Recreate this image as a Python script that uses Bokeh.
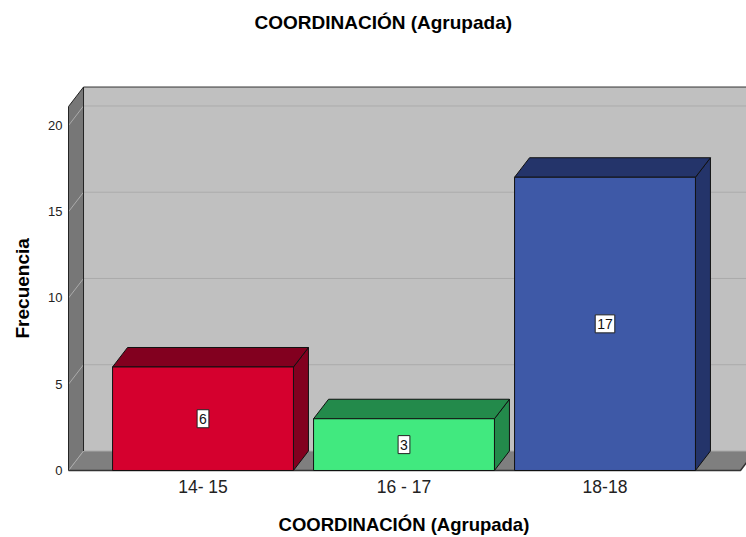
import math
from bokeh.plotting import figure
from bokeh.models import FixedTicker, Label, Title
from bokeh.embed import file_html
from bokeh.resources import INLINE

# ---- data ----
categories = ["14- 15", "16 - 17", "18-18"]
counts = [6, 3, 17]
front_colors = ["#d5002e", "#41e97f", "#3e59a7"]
side_colors = ["#82001f", "#238a4b", "#24346a"]
y_ticks = [0, 5, 10, 15, 20]
chart_title = "COORDINACIÓN  (Agrupada)"
x_title = "COORDINACIÓN  (Agrupada)"
y_title = "Frecuencia"

# ---- 3D geometry (data units) ----
PX_X = 201.0           # pixels per category
PX_Y = 17.25           # pixels per count
BAR_W = 0.9
DX = 15 / PX_X         # depth offset along x
DY = 19.5 / PX_Y       # depth offset along y
X_L = -0.669           # front-left edge of the box
X_R = 2.674            # front-right edge of the box
Y_TOP = 21.1           # top of walls
TITLE_X = 0.91         # title centre (category units)
TITLE_Y = 25.97        # title centre (count units)

FONT = "Liberation Sans"

p = figure(width=746, height=537, output_backend="svg", toolbar_location=None,
           x_range=(-0.6791, 2.7040), y_range=(-0.116, 27.246),
           min_border_left=66, min_border_right=0, min_border_top=0, min_border_bottom=65)
p.background_fill_color = "white"
p.border_fill_color = "white"
p.outline_line_color = None
p.grid.visible = False

# back wall
p.patch([X_L + DX, X_R + DX + 1, X_R + DX + 1, X_L + DX],
        [DY, DY, Y_TOP + DY, Y_TOP + DY], fill_color="#c0c0c0", line_color=None)
# left wall
p.patch([X_L, X_L + DX, X_L + DX, X_L], [0, DY, Y_TOP + DY, Y_TOP],
        fill_color="#777777", line_color=None)
# floor
p.patch([X_L, X_R, X_R + DX, X_L + DX], [0, 0, DY, DY],
        fill_color="#7f7f7f", line_color=None)

# grid lines (left wall diagonal + back wall horizontal)
gx, gy = [], []
for t in y_ticks:
    gx.append([X_L, X_L + DX, X_R + DX + 1])
    gy.append([t, t + DY, t + DY])
p.multi_line(gx, gy, line_color="#ababab", line_width=1)

# box edges
p.line([X_L + DX, X_R + DX + 1], [Y_TOP + DY, Y_TOP + DY], line_color="#333333", line_width=1)
p.line([X_L + DX, X_L + DX], [DY, Y_TOP + DY], line_color="#222222", line_width=1)
p.line([X_L, X_L, X_L + DX], [0, Y_TOP, Y_TOP + DY], line_color="#222222", line_width=1)
p.line([X_L, X_R, X_R + DX], [0, 0, DY], line_color="#333333", line_width=1.5)

# bars
for i, v in enumerate(counts):
    l = i - BAR_W / 2
    r = i + BAR_W / 2
    # right side
    p.patch([r, r + DX, r + DX, r], [0, DY, v + DY, v],
            fill_color=side_colors[i], line_color="#111111", line_width=1)
    # top
    p.patch([l, r, r + DX, l + DX], [v, v, v + DY, v + DY],
            fill_color=side_colors[i], line_color="#111111", line_width=1)
    # front
    p.patch([l, r, r, l], [0, 0, v, v],
            fill_color=front_colors[i], line_color="#111111", line_width=1)
    p.add_layout(Label(x=i, y=v / 2, text=str(v), text_align="center",
                       text_baseline="middle", text_font=FONT, text_font_size="14px",
                       text_color="#111111", background_fill_color="white",
                       border_line_color="#222222", padding=(2, 4)))

# chart title (inside the frame, above the box)
p.add_layout(Label(x=TITLE_X, y=TITLE_Y, text=chart_title, text_align="center",
                   text_baseline="middle", text_font=FONT, text_font_size="19px",
                   text_font_style="bold", text_color="#000000"))

# axes
p.xaxis.ticker = FixedTicker(ticks=list(range(len(categories))))
p.xaxis.major_label_overrides = {i: c for i, c in enumerate(categories)}
p.xaxis.axis_line_color = None
p.xaxis.major_tick_line_color = None
p.xaxis.minor_tick_line_color = None
p.xaxis.major_tick_out = 0
p.xaxis.major_tick_in = 0
p.xaxis.major_label_standoff = 4
p.xaxis.major_label_text_font = FONT
p.xaxis.major_label_text_font_size = "17.5px"
p.xaxis.major_label_text_color = "#222222"
p.xaxis.axis_label = x_title
p.xaxis.axis_label_text_font = FONT
p.xaxis.axis_label_text_font_size = "18.5px"
p.xaxis.axis_label_text_font_style = "bold"
p.xaxis.axis_label_text_color = "#000000"
p.xaxis.axis_label_standoff = 14

p.yaxis.ticker = FixedTicker(ticks=y_ticks)
p.yaxis.axis_line_color = None
p.yaxis.major_tick_line_color = None
p.yaxis.minor_tick_line_color = None
p.yaxis.major_tick_out = 0
p.yaxis.major_tick_in = 0
p.yaxis.major_label_standoff = 4
p.yaxis.major_label_text_font = FONT
p.yaxis.major_label_text_font_size = "13px"
p.yaxis.major_label_text_color = "#222222"

# y-axis title as a left-side title, positioned from the bottom of the frame
p.add_layout(Title(text=y_title, align="left", vertical_align="top", offset=134,
                   standoff=22, text_font=FONT, text_font_size="19px",
                   text_font_style="bold", text_color="#000000"), "left")

open("out.html", "w").write(file_html(p, INLINE))
